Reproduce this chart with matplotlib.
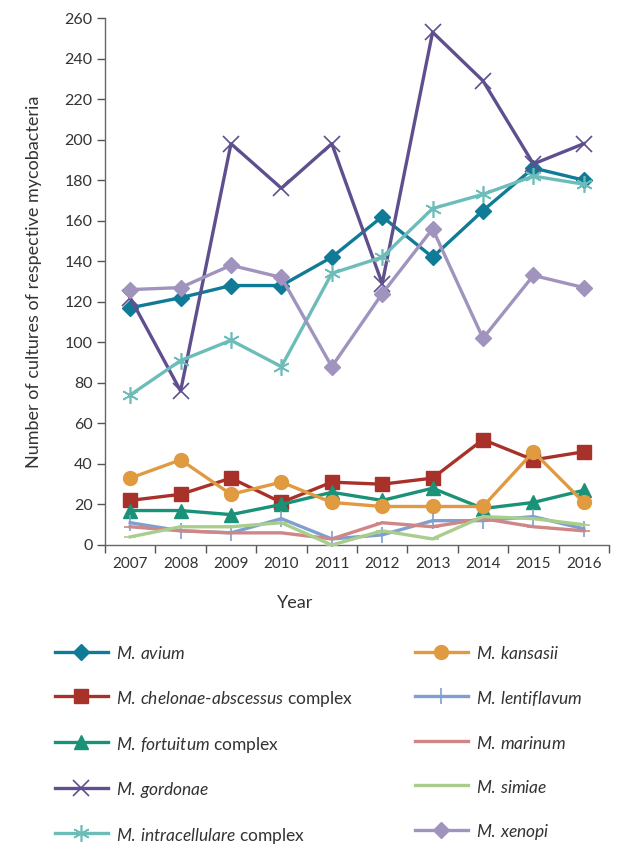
import matplotlib
matplotlib.use("Agg")
import matplotlib.pyplot as plt

plt.rcParams['font.family'] = ['Lato', 'DejaVu Sans']
plt.rcParams['mathtext.fontset'] = 'custom'
plt.rcParams['mathtext.rm'] = 'Lato'
plt.rcParams['mathtext.it'] = 'Lato:italic'

years = ['2007', '2008', '2009', '2010', '2011', '2012', '2013', '2014', '2015', '2016']

avium = [117, 122, 128, 128, 142, 162, 142, 165, 186, 180]
chelonae = [22, 25, 33, 21, 31, 30, 33, 52, 42, 46]
fortuitum = [17, 17, 15, 20, 26, 22, 28, 18, 21, 27]
gordonae = [122, 76, 198, 176, 198, 129, 253, 229, 188, 198]
intracellulare = [74, 91, 101, 88, 134, 142, 166, 173, 182, 178]
kansasii = [33, 42, 25, 31, 21, 19, 19, 19, 46, 21]
lentiflavum = [11, 7, 6, 13, 3, 5, 12, 12, 14, 8]
marinum = [9, 7, 6, 6, 3, 11, 9, 13, 9, 7]
simiae = [4, 9, 9, 11, 0, 7, 3, 14, 13, 10]
xenopi = [126, 127, 138, 132, 88, 124, 156, 102, 133, 127]

labels = [
    r"$\mathit{M.\,avium}$",
    r"$\mathit{M.\,chelonae‐abscessus}$ complex",
    r"$\mathit{M.\,fortuitum}$ complex",
    r"$\mathit{M.\,gordonae}$",
    r"$\mathit{M.\,intracellulare}$ complex",
    r"$\mathit{M.\,kansasii}$",
    r"$\mathit{M.\,lentiflavum}$",
    r"$\mathit{M.\,marinum}$",
    r"$\mathit{M.\,simiae}$",
    r"$\mathit{M.\,xenopi}$",
]
series = [avium, chelonae, fortuitum, gordonae, intracellulare,
          kansasii, lentiflavum, marinum, simiae, xenopi]

styles = [
    dict(color='#107b97', marker='D', ms=8),
    dict(color='#a8312a', marker='s', ms=9.5),
    dict(color='#1a9277', marker='^', ms=10),
    dict(color='#5f4f8e', marker='x', ms=11, mew=1.2),
    dict(color='#6cbdb9', marker=(6, 2, 0), ms=12, mew=1.2),
    dict(color='#e09a40', marker='o', ms=10),
    dict(color='#7f9fcf', marker='|', ms=12, mew=1.2),
    dict(color='#cf8687', marker='_', ms=8, mew=1.2),
    dict(color='#a9cd8c', marker='_', ms=8, mew=1.2),
    dict(color='#a094be', marker='D', ms=8),
]

fig = plt.figure(figsize=(6.32, 8.65), dpi=100)
ax = fig.add_axes([105 / 632, 1 - 545 / 865, 504 / 632, 527 / 865])

x = list(range(len(years)))
order = [8, 7, 6, 2, 1, 5, 4, 9, 0, 3]
lines = {}
for i in order:
    st = styles[i]
    ln, = ax.plot(x, series[i], lw=2.4, color=st['color'], marker=st['marker'],
                  ms=st['ms'], mew=st.get('mew', 1), mfc=st['color'],
                  mec=st['color'], label=labels[i], clip_on=False, zorder=3 + i * 0.1)
    lines[i] = ln

ax.set_xlim(-0.5, 9.5)
ax.set_ylim(0, 260)
ax.set_yticks(range(0, 261, 20))
ax.set_xticks([i + 0.5 for i in range(-1, 10)])
ax.set_xticklabels([])
ax.set_xticks(x, minor=True)
ax.set_xticklabels(years, minor=True)
ax.tick_params(axis='x', which='major', length=6, width=1, color='#555555', direction='out')
ax.tick_params(axis='x', which='minor', length=0, pad=9, labelsize=11, labelcolor='#333333')
ax.tick_params(axis='y', length=6, width=1, color='#555555', direction='out',
               labelsize=11.5, labelcolor='#333333', pad=3)
for s in ['top', 'right']:
    ax.spines[s].set_visible(False)
for s in ['left', 'bottom']:
    ax.spines[s].set_color('#666666')
    ax.spines[s].set_linewidth(1)

ax.set_ylabel('Number of cultures of respective mycobacteria', fontsize=13, color='#333333')
ax.yaxis.set_label_coords(-0.125, 0.5)
ax.set_xlabel('Year', fontsize=13, color='#333333')
ax.xaxis.set_label_coords(0.377, -0.094)

left_h = [lines[i] for i in range(5)]
right_h = [lines[i] for i in range(5, 10)]
leg_kw = dict(frameon=False, fontsize=12.5, handlelength=3.05, handletextpad=0.46,
              handleheight=1.3, labelspacing=1.47, borderpad=0, borderaxespad=0,
              labelcolor='#333333')
l1 = fig.legend(left_h, labels[:5], loc='upper left',
                bbox_to_anchor=(55 / 632, 1 - 644 / 865), **leg_kw)
l2 = fig.legend(right_h, labels[5:], loc='upper left',
                bbox_to_anchor=(415 / 632, 1 - 644 / 865), **leg_kw)

fig.savefig('out.png', dpi=100)
